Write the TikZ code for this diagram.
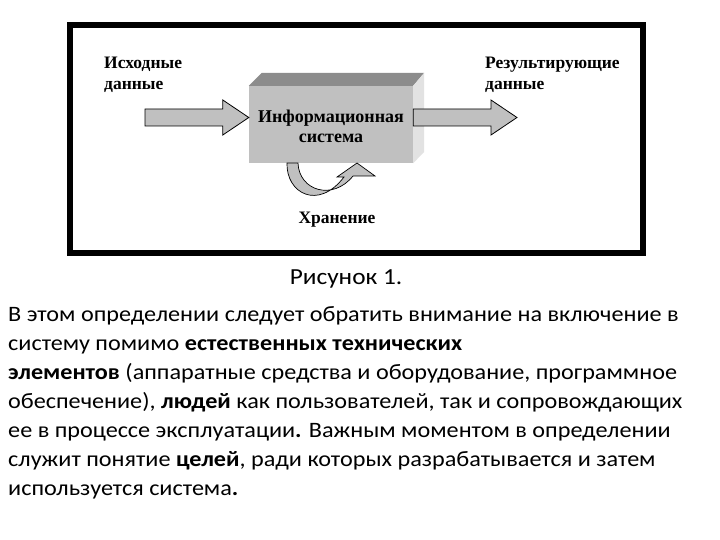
\documentclass[tikz,border=0pt]{standalone}
\usepackage{fontspec}
\setmainfont{Carlito}
\newfontfamily\bodyfont[FakeStretch=1.1]{Carlito}
\newfontfamily\figfont{Liberation Serif}
\usetikzlibrary{calc}

\definecolor{facegray}{HTML}{C0C0C0}
\definecolor{topgray}{HTML}{8C8C8C}
\definecolor{sidegray}{HTML}{E2E2E2}

\tikzset{
  figlabel/.style={font=\figfont\bfseries\fontsize{17.5}{21}\selectfont, inner sep=0pt},
  blockarrow/.style={draw=black, fill=facegray, line width=0.8pt, line join=miter},
  bodytext/.style={font=\bodyfont\fontsize{22}{29}\selectfont, inner sep=0pt, align=left, anchor=base west}
}

% block arrow from a point to the x of a target point
\newcommand{\blockarr}[2]{%
  \draw[blockarrow] let \p1=(#1), \p2=(#2) in
    (\x1,\y1+8.5) -- (\x2-26,\y1+8.5) -- (\x2-26,\y1+17.5) -- (\x2,\y1)
    -- (\x2-26,\y1-17.5) -- (\x2-26,\y1-8.5) -- (\x1,\y1-8.5) -- cycle;}

\begin{document}
\begin{tikzpicture}[x=1pt, y=-1pt]
    \useasboundingbox[fill=white] (0,0) rectangle (720,540);

    % Frame round the figure
    \draw[line width=6pt] (70,25) rectangle (643,253);

    % The system as a box
    \node[rectangle, fill=facegray, minimum width=164pt, minimum height=77pt, inner sep=0pt] (sys) at (331,124.5) {};
    \fill[topgray] (sys.north west) -- ++(13,-13) -- ($(sys.north east)+(11,-13)$) -- (sys.north east) -- cycle;
    \fill[sidegray] (sys.north east) -- ++(11,-13) -- ++(0,79) -- (sys.south east) -- cycle;
    \node[figlabel, align=center, anchor=base, font=\figfont\bfseries\fontsize{18}{20}\selectfont] (syslabel) at (331,143) {Информационная\\система};

    % Input and output
    \coordinate (src) at (145,117.5);
    \coordinate (dst) at (517,117.5);
    \blockarr{src}{src -| sys.west}
    \blockarr{dst -| sys.east}{dst}

    \node[figlabel, align=left, anchor=base west] (inlabel) at (104,90) {Исходные\\данные};
    \node[figlabel, align=left, anchor=base west] (outlabel) at (485,90) {Результирующие\\данные};

    % Storage loop under the box
    \draw[blockarrow, line width=0.7pt] (287,163) .. controls (286,193) and (318,211) .. (344,177)
      -- (337,177) -- (357,163) -- (375,176) -- (353,176)
      .. controls (333,201) and (299,191) .. (298,163) -- cycle;
    \node[figlabel, anchor=base] (store) at (337,223) {Хранение};

    % Caption and text
    \node[font=\bodyfont\fontsize{23}{26}\selectfont, inner sep=0pt, anchor=base] (caption) at (346,284) {Рисунок 1.};
    \node[bodytext] (body) at (8,495) {В этом определении следует обратить внимание на включение в\\
      систему помимо \textbf{естественных технических}\\
      \textbf{элементов} (аппаратные средства и оборудование, программное\\
      обеспечение), \textbf{людей} как пользователей, так и сопровождающих\\
      ее в процессе эксплуатации\textbf{.} Важным моментом в определении\\
      служит понятие \textbf{целей}, ради которых разрабатывается и затем\\
      используется система\textbf{.}};
\end{tikzpicture}
\end{document}
